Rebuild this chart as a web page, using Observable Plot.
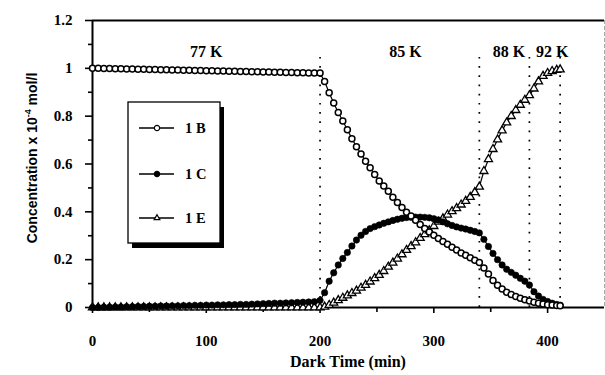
<!DOCTYPE html>
<html>
<head>
<meta charset="utf-8">
<script src="https://cdn.jsdelivr.net/npm/d3@7"></script>
<script src="https://cdn.jsdelivr.net/npm/@observablehq/plot@0.6"></script>
<style>
  body { margin: 0; background: #fff; }
  #chart svg { display: block; }
</style>
</head>
<body>
<div id="chart"></div>
<script>
// Dark time (min): 77 K hold, then warming steps
const timeEarly = [0,5,10,15,20,25,30,35,40,45,50,55,60,65,70,75,80,85,90,95,
  100,105,110,115,120,125,130,135,140,145,150,155,160,165,170,175,180,185,190,195,200];
const timeLate = [204,208,212,216,220,224,228,232,236,240,244,248,252,256,260,264,268,272,276,280,
  284,288,292,296,300,304,308,312,316,320,324,328,332,336,340,344,348,352,356,360,
  364,368,372,376,380,384,388,392,396,400,404,408,411];

// Concentrations (x 10^-4 mol/l)
const conc1B = [1.000,1.000,0.999,0.999,0.998,0.998,0.997,0.997,0.996,0.996,0.995,0.995,0.994,0.994,0.993,0.993,
  0.992,0.992,0.991,0.991,0.990,0.990,0.989,0.989,0.988,0.988,0.987,0.987,0.986,0.986,0.985,0.985,
  0.984,0.984,0.983,0.983,0.982,0.982,0.981,0.981,0.980,
  0.945,0.898,0.855,0.815,0.780,0.743,0.706,0.672,0.642,0.612,0.584,0.556,0.529,0.508,0.486,0.461,
  0.439,0.418,0.398,0.383,0.365,0.347,0.330,0.316,0.302,0.289,0.276,0.264,0.252,0.240,0.228,0.218,
  0.208,0.198,0.188,0.165,0.140,0.113,0.093,0.077,0.064,0.054,0.046,0.039,0.032,0.027,0.022,0.018,
  0.015,0.012,0.010,0.008,0.007];
const conc1C = [0.000,0.000,0.001,0.001,0.002,0.002,0.003,0.003,0.004,0.004,0.005,0.005,0.006,0.006,0.007,0.007,
  0.008,0.008,0.009,0.009,0.010,0.010,0.011,0.011,0.012,0.012,0.013,0.013,0.014,0.015,0.016,0.017,
  0.018,0.018,0.019,0.020,0.021,0.022,0.023,0.024,0.030,
  0.062,0.110,0.145,0.178,0.205,0.230,0.257,0.282,0.302,0.318,0.330,0.338,0.345,0.352,0.358,0.364,
  0.369,0.373,0.376,0.377,0.378,0.378,0.377,0.375,0.371,0.366,0.358,0.350,0.343,0.337,0.332,0.328,
  0.323,0.318,0.312,0.285,0.255,0.226,0.200,0.178,0.160,0.147,0.135,0.122,0.110,0.094,0.066,0.048,
  0.034,0.025,0.018,0.013,0.010];
const conc1E = [0,0,0,0,0,0,0,0,0,0,0,0,0,0,0,0,0,0,0,0,0,0,0,0,0,0,0,0,0,0,0,0,0,0,0,0,0,0,0,0,0,
  0.003,0.010,0.020,0.030,0.040,0.050,0.060,0.070,0.082,0.094,0.108,0.122,0.136,0.152,0.170,0.187,
  0.204,0.222,0.240,0.256,0.272,0.290,0.306,0.322,0.340,0.358,0.372,0.388,0.402,0.415,0.430,0.445,
  0.462,0.482,0.505,0.570,0.620,0.662,0.702,0.740,0.773,0.800,0.825,0.847,0.868,0.887,0.915,0.945,
  0.968,0.980,0.988,0.993,0.995];

// Temperature step boundaries and labels
const stepTimes = [200, 340, 384, 411];
const zoneLabels = ["77 K", "85 K", "88 K", "92 K"];
const zoneLabelX = [100, 275, 366, 404];
const zoneLabelY = 1.067;

const seriesNames = ["1 B", "1 C", "1 E"];
const yMajor = [0, 0.2, 0.4, 0.6, 0.8, 1, 1.2];
const yMinor = [0.1, 0.3, 0.5, 0.7, 0.9, 1.1];
const xMajor = [0, 100, 200, 300, 400];
const xMinor = [50, 150, 250, 350];

const time = timeEarly.concat(timeLate);
const toRows = (vals) => time.map((t, i) => ({t, v: vals[i]}));
const rowsB = toRows(conc1B), rowsC = toRows(conc1C), rowsE = toRows(conc1E);

const serif = "'Liberation Serif', 'Times New Roman', serif";

const plot = Plot.plot({
  width: 605,
  height: 375,
  marginLeft: 92,
  marginRight: 1,
  marginTop: 20,
  marginBottom: 68,
  x: {domain: [0, 450]},
  y: {domain: [0, 1.2]},
  style: {fontFamily: serif, fontWeight: "bold", fontSize: "15px", background: "white", color: "black"},
  marks: [
    // right edge, faint
    Plot.ruleX([450], {stroke: "#aaa", strokeWidth: 1, strokeDasharray: "4,2"}),
    // step boundaries
    Plot.ruleX(stepTimes, {y1: 0, y2: 1.075, stroke: "black", strokeWidth: 1.7, strokeDasharray: "1.7,7.5"}),
    Plot.axisY({ticks: yMinor, tickSize: 4, tickFormat: () => "", label: null, strokeWidth: 1.6}),
    Plot.axisY({ticks: yMajor, tickSize: 7, tickPadding: 13, tickFormat: d => String(d), label: null, strokeWidth: 1.6}),
    Plot.axisX({ticks: xMinor, tickSize: 5, tickFormat: () => "", label: null, strokeWidth: 1.6}),
    Plot.axisX({ticks: xMajor, tickSize: 6, tickPadding: 22, tickFormat: d => String(d), label: null, strokeWidth: 1.6}),
    Plot.ruleY([1.2], {stroke: "black", strokeWidth: 2}),
    Plot.ruleX([0], {stroke: "black", strokeWidth: 2}),
    Plot.ruleY([0], {stroke: "black", strokeWidth: 2}),
    // series
    Plot.line(rowsE, {x: "t", y: "v", stroke: "black", strokeWidth: 1.2}),
    Plot.dot(rowsE, {x: "t", y: "v", symbol: "triangle", r: 3, fill: "white", stroke: "black", strokeWidth: 1.3}),
    Plot.line(rowsC, {x: "t", y: "v", stroke: "black", strokeWidth: 1.2}),
    Plot.dot(rowsC, {x: "t", y: "v", r: 3.2, fill: "black", stroke: "black", strokeWidth: 0.6}),
    Plot.line(rowsB, {x: "t", y: "v", stroke: "black", strokeWidth: 1.2}),
    Plot.dot(rowsB, {x: "t", y: "v", r: 3, fill: "white", stroke: "black", strokeWidth: 1.5}),
    // temperature labels
    Plot.text(zoneLabels, {x: (d, i) => zoneLabelX[i], y: zoneLabelY, text: d => d,
      fontSize: 16, fontWeight: "bold", fill: "black"})
  ]
});

document.getElementById("chart").appendChild(plot);

// Axis titles and legend box
const svg = d3.select(plot);
const sx = plot.scale("x");
const xMid = (sx.apply(0) + sx.apply(450)) / 2;

svg.append("text")
  .attr("x", xMid).attr("y", 367)
  .attr("text-anchor", "middle")
  .attr("font-family", serif).attr("font-weight", "bold").attr("font-size", 16)
  .attr("fill", "black")
  .text("Dark Time (min)");

const yt = svg.append("text")
  .attr("transform", "translate(37,158) rotate(-90)")
  .attr("text-anchor", "middle")
  .attr("font-family", "'Liberation Sans', Arial, sans-serif").attr("font-weight", "bold").attr("font-size", 14)
  .attr("fill", "black");
yt.append("tspan").text("Concentration x 10");
yt.append("tspan").attr("font-size", 9).attr("dy", -6).text("-4");
yt.append("tspan").attr("dy", 6).text(" mol/l");

// legend
const lg = svg.append("g").attr("text-anchor", "start");
const bx = 128, by = 102, bw = 92, bh = 141;
lg.append("rect").attr("x", bx + 4).attr("y", by + 5).attr("width", bw).attr("height", bh).attr("fill", "black");
lg.append("rect").attr("x", bx).attr("y", by).attr("width", bw).attr("height", bh)
  .attr("fill", "white").attr("stroke", "black").attr("stroke-width", 1.3);
const rowY = [128, 174, 218];
const sym = [d3.symbolCircle, d3.symbolCircle, d3.symbolTriangle];
seriesNames.forEach((name, i) => {
  const y = rowY[i];
  lg.append("line").attr("x1", 139).attr("x2", 174).attr("y1", y).attr("y2", y)
    .attr("stroke", "black").attr("stroke-width", 1.3);
  lg.append("path")
    .attr("d", d3.symbol(sym[i], i === 2 ? 14 : 22)())
    .attr("transform", `translate(157,${y})`)
    .attr("fill", i === 1 ? "black" : "white")
    .attr("stroke", "black").attr("stroke-width", 1.2);
  lg.append("text").attr("x", 185).attr("y", y + 5)
    .attr("text-anchor", "start")
    .attr("font-family", serif).attr("font-weight", "bold").attr("font-size", 14.5)
    .attr("fill", "black").text(name);
});
</script>
</body>
</html>
